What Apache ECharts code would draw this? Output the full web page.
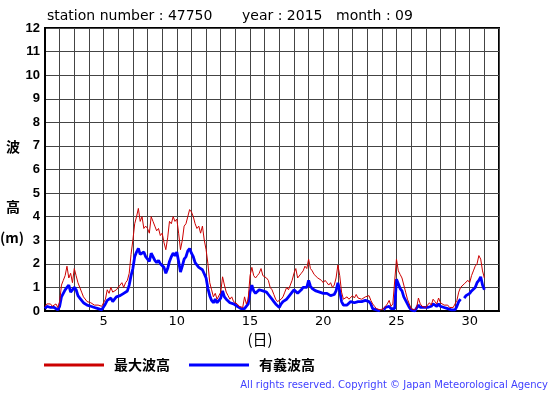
<!DOCTYPE html>
<html>
<head>
<meta charset="utf-8">
<script src="https://cdn.jsdelivr.net/npm/echarts@6/dist/echarts.min.js"></script>
<style>
html,body{margin:0;padding:0;background:#fff;}
#chart{width:555px;height:395px;}
</style>
</head>
<body>
<div id="chart"></div>
<script>
// Sampling: one value every 3 hours starting at day 1, 00h (8 values per day), final value at day 31 00h
const stepHours = 3;
const xTickLabels = [5, 10, 15, 20, 25, 30];
const seriesNames = ['最大波高', '有義波高'];

// 最大波高 (maximum wave height, m)
const maxWave = [
  0.2, 0.3, 0.25, 0.3, 0.2, 0.25, 0.3, 0.15,
  0.4, 1.1, 1.3, 1.5, 1.9, 1.4, 1.6, 1.2,
  1.8, 1.5, 1.2, 1.0, 0.8, 0.6, 0.55, 0.4,
  0.4, 0.35, 0.3, 0.25, 0.3, 0.25, 0.3, 0.2,
  0.15, 0.5, 0.9, 0.75, 1.0, 0.8, 0.85, 0.9,
  0.9, 1.1, 1.2, 1.0, 1.2, 1.3, 1.6, 2.4,
  3.0, 3.7, 4.0, 4.35, 3.8, 4.0, 3.5, 3.6,
  3.5, 3.3, 4.0, 3.8, 3.6, 3.4, 3.5, 3.2,
  3.3, 2.9, 2.6, 3.1, 3.8, 3.7, 4.0, 3.8,
  3.9, 3.3, 2.6, 3.0, 3.6, 3.7, 4.0, 4.3,
  4.2, 4.0, 3.7, 3.5, 3.6, 3.3, 3.6, 3.0,
  2.6, 2.0, 1.2, 0.9, 0.6, 0.75, 0.5, 0.55,
  0.8, 1.45, 1.1, 0.8, 0.65, 0.5, 0.6, 0.4,
  0.4, 0.3, 0.2, 0.25, 0.15, 0.6, 0.3, 0.5,
  1.5, 1.85, 1.5, 1.4, 1.5, 1.6, 1.8, 1.5,
  1.5, 1.4, 1.3, 1.0, 0.9, 0.7, 0.5, 0.4,
  0.4, 0.5, 0.6, 0.8, 1.0, 0.9, 1.1, 1.3,
  1.6, 1.8, 1.4, 1.4, 1.6, 1.7, 1.9, 1.8,
  2.2, 1.8, 1.7, 1.55, 1.6, 1.4, 1.35, 1.3,
  1.2, 1.3, 1.2, 1.1, 1.2, 1.0, 1.1, 1.4,
  1.95, 1.5, 0.8, 0.5, 0.5, 0.6, 0.5, 0.55,
  0.65, 0.55, 0.7, 0.55, 0.6, 0.5, 0.55, 0.6,
  0.55, 0.65, 0.45, 0.3, 0.2, 0.1, 0.05, 0.05,
  0.05, 0.1, 0.2, 0.3, 0.45, 0.2, 0.3, 0.25,
  2.2, 1.7, 1.55, 1.4, 1.1, 0.8, 0.5, 0.3,
  0.1, 0.05, 0.05, 0.15, 0.55, 0.3, 0.2, 0.25,
  0.15, 0.25, 0.35, 0.25, 0.5, 0.4, 0.3, 0.55,
  0.35, 0.3, 0.25, 0.2, 0.25, 0.15, 0.2, 0.15,
  0.1, 0.45, 0.8, 1.0, 0.95, 1.15, 1.1, 1.3,
  1.2, 1.5, 1.7, 1.9, 2.0, 2.35, 2.2, 1.7,
  1.4
];

// 有義波高 (significant wave height, m); null = missing
const sigWave = [
  0.1, 0.2, 0.15, 0.15, 0.1, 0.15, 0.1, 0.05,
  0.2, 0.6, 0.75, 0.9, 1.0, 1.1, 0.8, 0.9,
  1.0, 0.9, 0.65, 0.55, 0.45, 0.35, 0.3, 0.25,
  0.25, 0.2, 0.15, 0.15, 0.15, 0.1, 0.15, 0.05,
  0.05, 0.3, 0.45, 0.5, 0.55, 0.4, 0.5, 0.6,
  0.6, 0.65, 0.7, 0.75, 0.7, 0.85, 1.1, 1.5,
  1.8, 2.3, 2.5, 2.65, 2.4, 2.35, 2.5, 2.3,
  2.2, 2.1, 2.45, 2.3, 2.15, 2.05, 2.15, 2.0,
  2.0, 1.85, 1.6, 1.8, 2.1, 2.3, 2.45, 2.35,
  2.5, 2.1, 1.65, 1.9, 2.2, 2.3, 2.55, 2.65,
  2.45, 2.3, 2.05, 2.1, 1.85, 1.9, 1.75, 1.7,
  1.4, 0.95, 0.65, 0.45, 0.35, 0.5, 0.35, 0.4,
  0.55, 0.85, 0.6, 0.5, 0.45, 0.35, 0.4, 0.3,
  0.25, 0.2, 0.15, 0.1, 0.05, 0.1, 0.1, 0.3,
  0.8, 1.1, 0.85, 0.75, 0.8, 0.9, 0.95, 0.85,
  0.85, 0.8, 0.7, 0.65, 0.5, 0.4, 0.3, 0.25,
  0.15, 0.3, 0.4, 0.45, 0.5, 0.6, 0.65, 0.8,
  0.9, 0.95, 0.75, 0.8, 0.9, 1.0, 1.05, 1.0,
  1.3, 1.05, 0.95, 0.95, 0.85, 0.85, 0.8, 0.8,
  0.75, 0.8, 0.75, 0.75, 0.65, 0.7, 0.7, 0.85,
  1.2, 0.85, 0.4, 0.25, 0.3, 0.25, 0.3, 0.4,
  0.4, 0.35, 0.4, 0.4, 0.35, 0.4, 0.35, 0.45,
  0.45, 0.4, 0.3, 0.1, 0.05, 0.05, 0.02, 0.0,
  null, 0.05, 0.15, 0.15, 0.2, 0.1, 0.15, 0.1,
  1.35, 1.15, 0.95, 0.85, 0.6, 0.45, 0.3, 0.15,
  0.05, 0.0, 0.0, 0.05, 0.25, 0.15, 0.15, 0.15,
  0.1, 0.15, 0.2, 0.2, 0.3, 0.25, 0.2, 0.3,
  0.2, 0.15, 0.15, 0.1, 0.1, 0.1, 0.05, 0.05,
  0.05, 0.2, 0.4, 0.5, null, 0.55, 0.65, 0.7,
  0.75, 0.85, 0.9, 1.0, 1.2, 1.3, 1.45, 1.1,
  0.9
];

const toPairs = arr => arr.map((v, i) => [1 + i * stepHours / 24, v]);

const chart = echarts.init(document.getElementById('chart'), null, {renderer: 'canvas'});
chart.setOption({
  animation: false,
  backgroundColor: '#fff',
  grid: {left: 45, right: 56, top: 28, bottom: 84, show: true, borderColor: '#000', borderWidth: 2, backgroundColor: 'transparent'},
  xAxis: {
    type: 'value', min: 1, max: 32, interval: 1,
    axisLabel: {
      formatter: v => (xTickLabels.indexOf(v) >= 0 ? String(v) : ''),
      fontFamily: 'DejaVu Sans', fontSize: 13, color: '#000', margin: 4
    },
    axisTick: {show: false},
    axisLine: {show: true, lineStyle: {color: '#000', width: 2}},
    splitLine: {show: true, lineStyle: {color: '#444', width: 1}}
  },
  yAxis: {
    type: 'value', min: 0, max: 12, interval: 1,
    axisLabel: {fontFamily: 'Liberation Sans', fontWeight: 'bold', fontSize: 13, color: '#000', margin: 5},
    axisTick: {show: false},
    axisLine: {show: true, lineStyle: {color: '#000', width: 2}},
    splitLine: {show: true, lineStyle: {color: '#444', width: 1}}
  },
  legend: {
    data: seriesNames,
    left: 44, top: 358, padding: 0,
    itemWidth: 60, itemHeight: 3, itemGap: 19, icon: 'rect',
    textStyle: {fontFamily: 'Noto Sans CJK JP', fontWeight: 'bold', fontSize: 14, color: '#000', padding: [0, 0, 0, 5]}
  },
  series: [
    {
      name: seriesNames[1], type: 'line', data: toPairs(sigWave), showSymbol: false, symbol: 'none',
      lineStyle: {color: '#0000ff', width: 2.8}, itemStyle: {color: '#0000ff'}, z: 2
    },
    {
      name: seriesNames[0], type: 'line', data: toPairs(maxWave), showSymbol: false, symbol: 'none',
      lineStyle: {color: '#cc0000', width: 1}, itemStyle: {color: '#cc0000'}, z: 3
    }
  ],
  graphic: [
    {type: 'text', left: 47, top: 9, style: {text: 'station number : 47750', font: '14px "DejaVu Sans"', fill: '#000'}},
    {type: 'text', left: 242, top: 9, style: {text: 'year : 2015', font: '14px "DejaVu Sans"', fill: '#000'}},
    {type: 'text', left: 336, top: 9, style: {text: 'month : 09', font: '14px "DejaVu Sans"', fill: '#000'}},
    {type: 'text', x: 13, y: 147, style: {text: '波', font: 'bold 14px "Noto Sans CJK JP"', fill: '#000', align: 'center', verticalAlign: 'middle'}},
    {type: 'text', x: 13, y: 207, style: {text: '高', font: 'bold 14px "Noto Sans CJK JP"', fill: '#000', align: 'center', verticalAlign: 'middle'}},
    {type: 'text', x: 12, y: 238, style: {text: '(m)', font: 'bold 14px "Noto Sans CJK JP"', fill: '#000', align: 'center', verticalAlign: 'middle'}},
    {type: 'text', x: 260, y: 339, style: {text: '(日)', font: '15px "Noto Sans CJK JP"', fill: '#000', align: 'center', verticalAlign: 'middle'}},
    {type: 'text', x: 548, y: 385, style: {text: 'All rights reserved. Copyright © Japan Meteorological Agency', font: '10px "DejaVu Sans"', fill: '#3f3fff', align: 'right', verticalAlign: 'middle'}}
  ]
});
</script>
</body>
</html>
